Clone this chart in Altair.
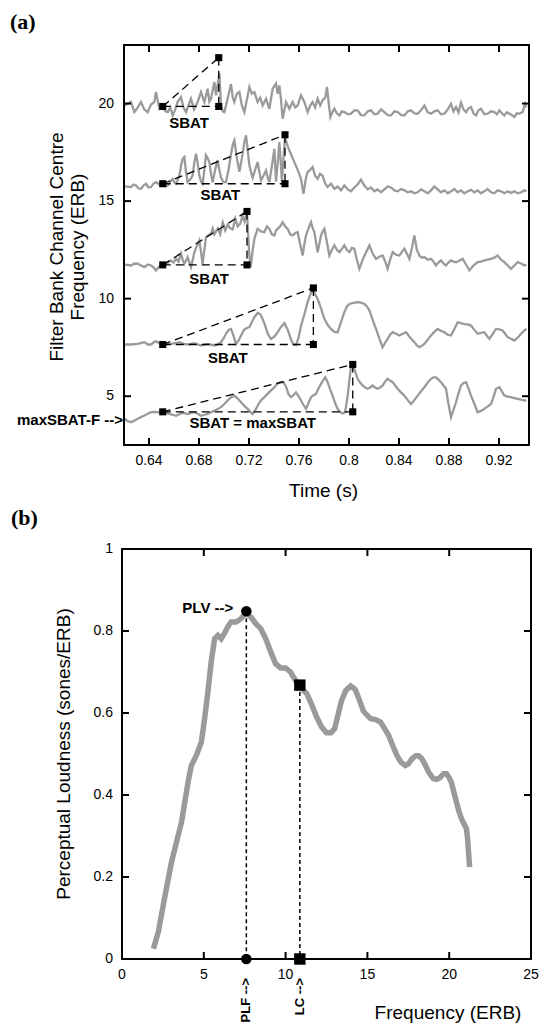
import altair as alt
import pandas as pd

# ---------------- panel (a): filter-bank channel traces ----------------
TIME_DOMAIN = [0.62, 0.944]
CH_DOMAIN = [2.5, 23]
TIME_TICKS = [0.64, 0.68, 0.72, 0.76, 0.80, 0.84, 0.88, 0.92]
TIME_LABELS = ["0.64", "0.68", "0.72", "0.76", "0.8", "0.84", "0.88", "0.92"]
CH_TICKS = [5, 10, 15, 20]
CH_LABELS = ["5", "10", "15", "20"]
A_TITLES = ["Time (s)", "Filter Bank Channel Centre", "Frequency (ERB)"]

T1_T = [0.6205, 0.6256, 0.6283, 0.6310, 0.6336, 0.6362, 0.6389, 0.6416, 0.6443, 0.6456, 0.6483, 0.6510, 0.6530, 0.6550, 0.6570, 0.6590, 0.6610, 0.6629, 0.6656, 0.6676, 0.6696, 0.6716, 0.6736, 0.6760, 0.6789, 0.6816, 0.6843, 0.6869, 0.6883, 0.6896, 0.6923, 0.6936, 0.6950, 0.6963, 0.6976, 0.6990, 0.7003, 0.7029, 0.7056, 0.7070, 0.7083, 0.7103, 0.7123, 0.7143, 0.7163, 0.7183, 0.7203, 0.7223, 0.7243, 0.7269, 0.7290, 0.7309, 0.7336, 0.7363, 0.7389, 0.7416, 0.7430, 0.7443, 0.7456, 0.7469, 0.7496, 0.7523, 0.7549, 0.7570, 0.7589, 0.7616, 0.7643, 0.7669, 0.7690, 0.7709, 0.7729, 0.7749, 0.7769, 0.7789, 0.7810, 0.7824, 0.7838, 0.7851, 0.7870, 0.7883, 0.7903, 0.7923, 0.7943, 0.7963, 0.7990, 0.8016, 0.8043, 0.8069, 0.8096, 0.8123, 0.8150, 0.8176, 0.8203, 0.8229, 0.8256, 0.8283, 0.8310, 0.8336, 0.8363, 0.8389, 0.8416, 0.8443, 0.8470, 0.8496, 0.8523, 0.8549, 0.8576, 0.8603, 0.8630, 0.8656, 0.8683, 0.8709, 0.8736, 0.8763, 0.8790, 0.8816, 0.8836, 0.8856, 0.8876, 0.8896, 0.8916, 0.8936, 0.8956, 0.8976, 0.8996, 0.9016, 0.9036, 0.9056, 0.9083, 0.9109, 0.9136, 0.9163, 0.9183, 0.9203, 0.9223, 0.9243, 0.9263, 0.9283, 0.9303, 0.9323, 0.9343, 0.9363, 0.9389, 0.9408, 0.9420]
T1_V = [19.9, 20.08, 19.56, 19.8, 20.08, 19.7, 19.56, 19.95, 20.08, 20.59, 19.73, 19.9, 19.6, 19.56, 19.8, 19.39, 19.7, 20.08, 20.33, 19.8, 19.56, 19.9, 20.25, 19.7, 20.08, 20.59, 20.08, 20.76, 20.1, 20.25, 21.1, 20.42, 21.0, 21.55, 19.9, 19.6, 19.56, 20.25, 21.0, 20.3, 20.08, 20.5, 20.59, 19.9, 19.56, 20.2, 20.85, 20.5, 20.59, 20.08, 20.3, 19.9, 20.25, 19.73, 20.76, 21.02, 20.5, 20.93, 20.2, 19.22, 20.08, 19.73, 20.08, 19.8, 19.9, 20.42, 20.08, 19.56, 19.9, 20.08, 19.8, 20.25, 19.9, 20.17, 20.3, 20.85, 20.0, 19.31, 19.6, 19.73, 19.5, 19.39, 19.6, 19.56, 19.45, 19.48, 19.65, 19.65, 19.4, 19.39, 19.6, 19.65, 19.45, 19.48, 19.7, 19.56, 19.4, 19.39, 19.6, 19.56, 19.42, 19.39, 19.6, 19.65, 19.5, 19.48, 19.65, 19.9, 19.55, 19.48, 19.6, 19.65, 19.45, 19.48, 19.7, 19.99, 19.6, 19.82, 19.55, 20.05, 19.7, 19.56, 19.75, 19.82, 19.5, 19.39, 19.65, 19.73, 19.45, 19.48, 19.6, 19.56, 19.45, 19.65, 19.5, 19.39, 19.55, 19.48, 19.4, 19.31, 19.5, 19.48, 19.56, 19.99, 19.8]

T2_T = [0.6205, 0.6256, 0.6276, 0.6296, 0.6316, 0.6336, 0.6356, 0.6376, 0.6396, 0.6416, 0.6436, 0.6456, 0.6483, 0.6510, 0.6530, 0.6550, 0.6570, 0.6590, 0.6603, 0.6616, 0.6630, 0.6643, 0.6656, 0.6669, 0.6683, 0.6696, 0.6709, 0.6729, 0.6749, 0.6763, 0.6776, 0.6790, 0.6803, 0.6816, 0.6829, 0.6843, 0.6856, 0.6870, 0.6883, 0.6896, 0.6909, 0.6929, 0.6949, 0.6963, 0.6976, 0.6996, 0.7016, 0.7036, 0.7056, 0.7070, 0.7083, 0.7103, 0.7123, 0.7143, 0.7163, 0.7176, 0.7190, 0.7203, 0.7216, 0.7229, 0.7249, 0.7269, 0.7283, 0.7296, 0.7316, 0.7336, 0.7350, 0.7363, 0.7383, 0.7403, 0.7416, 0.7430, 0.7443, 0.7456, 0.7463, 0.7476, 0.7488, 0.7510, 0.7536, 0.7556, 0.7576, 0.7596, 0.7616, 0.7636, 0.7656, 0.7669, 0.7690, 0.7709, 0.7729, 0.7749, 0.7769, 0.7789, 0.7809, 0.7829, 0.7856, 0.7883, 0.7910, 0.7936, 0.7963, 0.7990, 0.8016, 0.8043, 0.8069, 0.8096, 0.8123, 0.8150, 0.8176, 0.8203, 0.8229, 0.8256, 0.8283, 0.8310, 0.8336, 0.8363, 0.8389, 0.8416, 0.8443, 0.8470, 0.8496, 0.8523, 0.8549, 0.8576, 0.8603, 0.8630, 0.8656, 0.8683, 0.8709, 0.8736, 0.8763, 0.8790, 0.8816, 0.8843, 0.8870, 0.8896, 0.8923, 0.8950, 0.8976, 0.9003, 0.9029, 0.9056, 0.9083, 0.9109, 0.9136, 0.9163, 0.9189, 0.9216, 0.9243, 0.9270, 0.9296, 0.9323, 0.9349, 0.9376, 0.9403, 0.9420]
T2_V = [15.75, 15.72, 15.85, 15.8, 15.65, 15.63, 15.8, 15.89, 15.7, 15.72, 15.9, 15.97, 15.85, 15.89, 15.75, 15.8, 16.0, 16.14, 15.95, 15.89, 16.1, 16.31, 16.8, 17.17, 17.26, 16.5, 15.97, 16.1, 16.31, 17.0, 17.43, 16.9, 16.31, 16.0, 15.89, 16.6, 17.35, 17.2, 17.0, 16.4, 15.97, 16.6, 17.1, 16.6, 16.2, 15.97, 15.97, 16.6, 17.4, 17.9, 18.11, 17.2, 16.5, 17.2, 18.0, 18.37, 17.6, 16.83, 16.5, 16.2, 16.6, 17.0, 16.5, 16.06, 16.3, 16.57, 16.2, 15.97, 16.8, 17.68, 16.0, 17.0, 18.03, 16.8, 16.0, 17.2, 18.25, 17.8, 17.4, 17.1, 16.8, 16.5, 16.14, 15.37, 16.2, 16.49, 16.6, 16.74, 16.3, 16.14, 16.4, 16.3, 15.9, 15.72, 15.9, 15.63, 15.75, 15.55, 15.8, 15.6, 15.5, 15.7, 15.85, 16.1, 15.8, 15.6, 15.7, 15.5, 15.6, 15.45, 15.6, 15.75, 15.7, 15.55, 15.5, 15.62, 15.55, 15.45, 15.5, 15.4, 15.45, 15.6, 15.5, 15.4, 15.55, 15.75, 15.6, 15.45, 15.55, 15.4, 15.5, 15.62, 15.45, 15.55, 15.4, 15.5, 15.58, 15.45, 15.55, 15.4, 15.5, 15.62, 15.45, 15.4, 15.55, 15.5, 15.4, 15.5, 15.42, 15.5, 15.4, 15.45, 15.55, 15.5]

T3_T = [0.6205, 0.6256, 0.6283, 0.6310, 0.6336, 0.6363, 0.6390, 0.6416, 0.6436, 0.6456, 0.6483, 0.6510, 0.6543, 0.6576, 0.6596, 0.6616, 0.6636, 0.6656, 0.6669, 0.6683, 0.6696, 0.6709, 0.6723, 0.6736, 0.6750, 0.6763, 0.6783, 0.6803, 0.6816, 0.6829, 0.6843, 0.6856, 0.6876, 0.6896, 0.6910, 0.6923, 0.6950, 0.6970, 0.6990, 0.7010, 0.7030, 0.7050, 0.7070, 0.7090, 0.7110, 0.7130, 0.7150, 0.7165, 0.7184, 0.7194, 0.7203, 0.7213, 0.7230, 0.7243, 0.7269, 0.7296, 0.7323, 0.7343, 0.7363, 0.7383, 0.7403, 0.7416, 0.7429, 0.7449, 0.7469, 0.7489, 0.7509, 0.7529, 0.7549, 0.7569, 0.7589, 0.7609, 0.7629, 0.7643, 0.7656, 0.7676, 0.7696, 0.7710, 0.7723, 0.7736, 0.7749, 0.7763, 0.7776, 0.7790, 0.7803, 0.7823, 0.7843, 0.7863, 0.7883, 0.7903, 0.7923, 0.7943, 0.7963, 0.7983, 0.8003, 0.8023, 0.8043, 0.8063, 0.8083, 0.8110, 0.8136, 0.8150, 0.8163, 0.8190, 0.8216, 0.8243, 0.8269, 0.8290, 0.8309, 0.8329, 0.8349, 0.8376, 0.8403, 0.8423, 0.8443, 0.8463, 0.8483, 0.8503, 0.8523, 0.8543, 0.8563, 0.8583, 0.8603, 0.8630, 0.8656, 0.8676, 0.8696, 0.8716, 0.8736, 0.8756, 0.8776, 0.8796, 0.8816, 0.8836, 0.8856, 0.8883, 0.8909, 0.8936, 0.8963, 0.8996, 0.9029, 0.9056, 0.9083, 0.9110, 0.9136, 0.9163, 0.9189, 0.9216, 0.9243, 0.9270, 0.9296, 0.9323, 0.9349, 0.9376, 0.9403, 0.9420]
T3_V = [11.75, 11.7, 11.8, 11.79, 11.7, 11.62, 11.75, 11.7, 11.6, 11.45, 11.65, 11.74, 11.8, 11.96, 11.85, 12.05, 11.9, 12.31, 12.0, 11.79, 11.95, 12.13, 11.85, 11.62, 12.0, 12.38, 12.7, 12.98, 12.4, 11.79, 12.5, 13.15, 13.25, 13.32, 13.6, 13.3, 13.6, 13.3, 13.9, 13.5, 13.8, 13.6, 13.55, 14.1, 13.7, 13.85, 14.27, 13.95, 14.4, 13.2, 12.2, 11.62, 12.5, 13.07, 13.58, 13.45, 13.41, 13.7, 13.58, 13.3, 13.24, 13.5, 13.58, 13.7, 13.92, 13.7, 13.58, 13.3, 13.24, 13.35, 13.41, 12.8, 12.21, 12.8, 13.24, 13.6, 13.92, 13.6, 13.41, 12.9, 12.38, 12.8, 13.24, 13.45, 13.58, 12.9, 12.21, 12.5, 12.73, 12.5, 12.38, 12.55, 12.73, 12.5, 12.38, 12.6, 12.56, 12.0, 11.53, 12.0, 12.38, 12.55, 12.73, 12.3, 12.04, 12.15, 12.21, 11.9, 11.53, 12.0, 12.38, 12.25, 12.21, 12.4, 12.56, 12.3, 12.04, 12.6, 13.24, 12.5, 12.21, 12.1, 12.13, 12.0, 12.04, 11.9, 11.7, 11.85, 11.96, 11.8, 11.7, 11.85, 11.96, 11.9, 11.87, 11.95, 12.04, 11.75, 11.45, 11.7, 11.87, 11.9, 11.96, 12.0, 12.04, 12.1, 12.21, 12.0, 11.87, 11.7, 11.53, 11.7, 11.87, 11.8, 11.7, 11.75]

T4_T = [0.6205, 0.6256, 0.6310, 0.6363, 0.6390, 0.6416, 0.6436, 0.6456, 0.6483, 0.6510, 0.6576, 0.6610, 0.6643, 0.6676, 0.6709, 0.6763, 0.6816, 0.6869, 0.6923, 0.6950, 0.6976, 0.7000, 0.7016, 0.7036, 0.7056, 0.7076, 0.7096, 0.7116, 0.7136, 0.7160, 0.7183, 0.7203, 0.7223, 0.7243, 0.7270, 0.7290, 0.7310, 0.7330, 0.7350, 0.7376, 0.7403, 0.7429, 0.7456, 0.7483, 0.7510, 0.7536, 0.7556, 0.7576, 0.7596, 0.7616, 0.7643, 0.7669, 0.7690, 0.7712, 0.7730, 0.7749, 0.7776, 0.7803, 0.7830, 0.7856, 0.7883, 0.7909, 0.7936, 0.7963, 0.7983, 0.8003, 0.8036, 0.8069, 0.8096, 0.8123, 0.8143, 0.8163, 0.8190, 0.8216, 0.8243, 0.8269, 0.8290, 0.8309, 0.8329, 0.8349, 0.8376, 0.8403, 0.8430, 0.8456, 0.8490, 0.8523, 0.8543, 0.8563, 0.8583, 0.8603, 0.8630, 0.8656, 0.8683, 0.8709, 0.8736, 0.8763, 0.8790, 0.8816, 0.8843, 0.8869, 0.8896, 0.8923, 0.8950, 0.8976, 0.9003, 0.9029, 0.9056, 0.9083, 0.9103, 0.9123, 0.9150, 0.9176, 0.9203, 0.9229, 0.9249, 0.9269, 0.9296, 0.9323, 0.9350, 0.9376, 0.9400, 0.9420]
T4_V = [7.65, 7.65, 7.68, 7.77, 7.65, 7.65, 7.75, 7.82, 7.7, 7.65, 7.68, 7.72, 7.77, 7.68, 7.65, 7.72, 7.6, 7.68, 7.6, 7.65, 7.77, 8.0, 8.2, 8.4, 8.45, 8.1, 7.68, 7.85, 8.1, 8.4, 8.5, 8.54, 8.8, 9.05, 9.28, 9.2, 8.95, 8.6, 8.2, 7.94, 8.05, 8.28, 8.55, 8.75, 8.4, 7.9, 7.65, 7.62, 8.0, 8.6, 9.2, 9.82, 10.2, 10.5, 10.2, 9.99, 9.5, 8.97, 8.65, 8.45, 8.3, 8.28, 8.8, 9.31, 9.6, 9.73, 9.78, 9.82, 9.8, 9.73, 9.6, 9.4, 8.9, 8.45, 7.95, 7.51, 7.75, 7.94, 8.15, 8.28, 8.2, 8.11, 8.2, 8.28, 8.0, 7.77, 7.6, 7.51, 7.58, 7.68, 7.9, 8.11, 8.3, 8.45, 8.35, 8.28, 8.15, 8.11, 8.45, 8.79, 8.75, 8.7, 8.68, 8.62, 8.4, 8.2, 8.25, 8.28, 8.1, 7.94, 8.2, 8.45, 8.42, 8.37, 8.2, 8.03, 7.95, 7.85, 8.0, 8.2, 8.35, 8.45]

T5_T = [0.6205, 0.6230, 0.6256, 0.6283, 0.6310, 0.6336, 0.6363, 0.6390, 0.6416, 0.6443, 0.6470, 0.6490, 0.6510, 0.6536, 0.6563, 0.6590, 0.6616, 0.6643, 0.6669, 0.6690, 0.6709, 0.6736, 0.6763, 0.6790, 0.6816, 0.6843, 0.6869, 0.6896, 0.6923, 0.6950, 0.6976, 0.7003, 0.7029, 0.7056, 0.7083, 0.7110, 0.7136, 0.7163, 0.7189, 0.7209, 0.7229, 0.7256, 0.7276, 0.7296, 0.7323, 0.7349, 0.7376, 0.7403, 0.7429, 0.7456, 0.7476, 0.7496, 0.7516, 0.7536, 0.7556, 0.7576, 0.7596, 0.7616, 0.7636, 0.7656, 0.7676, 0.7696, 0.7716, 0.7736, 0.7756, 0.7776, 0.7796, 0.7810, 0.7829, 0.7849, 0.7869, 0.7889, 0.7909, 0.7929, 0.7949, 0.7969, 0.7989, 0.8003, 0.8016, 0.8030, 0.8043, 0.8069, 0.8089, 0.8109, 0.8129, 0.8149, 0.8169, 0.8189, 0.8209, 0.8229, 0.8249, 0.8269, 0.8289, 0.8309, 0.8329, 0.8349, 0.8369, 0.8389, 0.8416, 0.8443, 0.8470, 0.8496, 0.8523, 0.8549, 0.8576, 0.8603, 0.8630, 0.8656, 0.8676, 0.8696, 0.8716, 0.8736, 0.8756, 0.8776, 0.8796, 0.8816, 0.8836, 0.8856, 0.8876, 0.8896, 0.8916, 0.8936, 0.8956, 0.8976, 0.9003, 0.9029, 0.9056, 0.9083, 0.9110, 0.9136, 0.9156, 0.9176, 0.9203, 0.9223, 0.9243, 0.9270, 0.9296, 0.9323, 0.9349, 0.9376, 0.9403, 0.9420]
T5_V = [3.85, 3.72, 3.67, 3.75, 3.84, 3.93, 4.01, 4.1, 4.18, 4.2, 4.18, 4.2, 4.21, 4.15, 4.09, 4.05, 4.0, 4.08, 4.15, 4.12, 4.09, 4.14, 4.18, 4.1, 4.0, 4.05, 4.09, 4.18, 4.26, 4.35, 4.44, 4.6, 4.78, 4.95, 5.03, 4.88, 4.69, 4.5, 4.35, 4.2, 4.09, 4.35, 4.6, 4.78, 4.95, 5.12, 5.3, 5.46, 5.65, 5.72, 5.7, 5.5, 5.1, 4.95, 5.05, 5.2, 5.0, 4.78, 4.55, 4.35, 4.65, 4.95, 5.05, 5.12, 5.4, 5.63, 5.85, 5.97, 5.72, 5.35, 5.03, 4.65, 4.35, 4.2, 4.12, 4.18, 5.0, 5.8, 6.55, 6.5, 6.4, 5.89, 5.7, 5.55, 5.45, 5.38, 5.45, 5.55, 5.45, 5.38, 5.45, 5.55, 5.75, 5.89, 5.8, 5.72, 5.55, 5.38, 5.2, 5.03, 4.8, 4.6, 4.8, 5.03, 5.25, 5.46, 5.7, 5.89, 5.97, 5.97, 5.85, 5.72, 5.55, 5.38, 4.6, 3.92, 4.3, 4.69, 5.15, 5.55, 5.68, 5.72, 5.4, 5.03, 4.6, 4.18, 4.25, 4.35, 4.48, 4.6, 4.95, 5.38, 5.46, 5.25, 5.03, 4.98, 4.95, 4.9, 4.86, 4.82, 4.78, 4.8]

# SBAT construction points (one per channel, top to bottom)
SBAT_START_T = [0.651, 0.651, 0.651, 0.651, 0.651]
SBAT_PEAK_T = [0.6958, 0.7488, 0.7184, 0.7715, 0.8030]
SBAT_BASE_V = [19.85, 15.89, 11.73, 7.65, 4.20]
SBAT_PEAK_V = [22.35, 18.40, 14.47, 10.55, 6.63]
SBAT_LABEL_T = [0.672, 0.697, 0.688, 0.703, 0.723]
SBAT_LABEL_V = [19.0, 15.3, 11.0, 6.97, 3.62]
SBAT_LABELS = ["SBAT", "SBAT", "SBAT", "SBAT", "SBAT = maxSBAT"]
MAXF_T = [0.62]
MAXF_V = [3.79]
MAXF_LABEL = ["maxSBAT-F -->"]

# ---------------- panel (b): loudness pattern ----------------
FREQ_DOMAIN = [0, 25]
LOUD_DOMAIN = [0, 1]
FREQ_TICKS = [0, 5, 10, 15, 20, 25]
FREQ_LABELS = ["0", "5", "10", "15", "20", "25"]
LOUD_TICKS = [0, 0.2, 0.4, 0.6, 0.8, 1]
LOUD_LABELS = ["0", "0.2", "0.4", "0.6", "0.8", "1"]
B_TITLES = ["Frequency (ERB)", "Perceptual Loudness (sones/ERB)"]
CURVE_F = [1.92, 2.22, 2.63, 3.03, 3.33, 3.64, 3.84, 4.04, 4.24, 4.55, 4.85, 5.05, 5.25, 5.45, 5.66, 5.86, 6.06, 6.26, 6.46, 6.67, 6.97, 7.27, 7.58, 7.88, 8.18, 8.48, 8.79, 9.09, 9.39, 9.70, 10.0, 10.3, 10.6, 10.9, 11.3, 11.6, 11.9, 12.2, 12.5, 12.77, 13.0, 13.2, 13.4, 13.68, 13.98, 14.25, 14.48, 14.75, 14.99, 15.2, 15.5, 15.8, 16.05, 16.3, 16.55, 16.81, 17.05, 17.31, 17.5, 17.72, 17.95, 18.12, 18.3, 18.52, 18.75, 19.03, 19.23, 19.43, 19.65, 19.84, 20.0, 20.14, 20.3, 20.44, 20.6, 20.75, 20.9, 21.05, 21.12, 21.15, 21.2, 21.25]
CURVE_V = [0.025, 0.066, 0.155, 0.237, 0.285, 0.334, 0.383, 0.432, 0.472, 0.497, 0.529, 0.586, 0.651, 0.724, 0.781, 0.789, 0.781, 0.794, 0.810, 0.822, 0.822, 0.830, 0.845, 0.834, 0.818, 0.806, 0.781, 0.749, 0.720, 0.710, 0.710, 0.700, 0.680, 0.663, 0.647, 0.620, 0.590, 0.566, 0.552, 0.552, 0.562, 0.595, 0.628, 0.655, 0.666, 0.658, 0.635, 0.605, 0.594, 0.586, 0.584, 0.578, 0.562, 0.545, 0.520, 0.496, 0.480, 0.472, 0.476, 0.488, 0.496, 0.496, 0.490, 0.475, 0.455, 0.440, 0.438, 0.442, 0.452, 0.452, 0.442, 0.430, 0.405, 0.383, 0.360, 0.342, 0.330, 0.318, 0.295, 0.277, 0.250, 0.224]
PLV_F, PLV_V = 7.6, 0.848
LC_F, LC_V = 10.87, 0.668

SANS = "Liberation Sans"
SERIF = "Liberation Serif"
GRAY = "#9a9a9a"
TICK = 7
LABEL_SIZE = 14
TITLE_SIZE = 19
WA, HA = 405, 400
WB, HB = 409, 410

# ---------------- tables ----------------
trace_rows = []
for i, (ts, vs) in enumerate([(T1_T, T1_V), (T2_T, T2_V), (T3_T, T3_V), (T4_T, T4_V), (T5_T, T5_V)]):
    for k, (t, v) in enumerate(zip(ts, vs)):
        trace_rows.append({"t": t, "v": v, "ch": i, "k": k})
traces = pd.DataFrame(trace_rows)

seg_rows, sq_rows = [], []
for s, p, b, pv in zip(SBAT_START_T, SBAT_PEAK_T, SBAT_BASE_V, SBAT_PEAK_V):
    seg_rows += [
        {"t": s, "v": b, "t1": p, "v1": pv},
        {"t": s, "v": b, "t1": p, "v1": b},
        {"t": p, "v": pv, "t1": p, "v1": b},
    ]
    sq_rows += [{"t": s, "v": b}, {"t": p, "v": pv}, {"t": p, "v": b}]
segs = pd.DataFrame(seg_rows)
squares = pd.DataFrame(sq_rows)
sbat_lab = pd.DataFrame({"t": SBAT_LABEL_T, "v": SBAT_LABEL_V, "txt": SBAT_LABELS})
maxf = pd.DataFrame({"t": MAXF_T, "v": MAXF_V, "txt": MAXF_LABEL})
xt_a = pd.DataFrame({"t": TIME_TICKS, "lab": TIME_LABELS})
yt_a = pd.DataFrame({"v": CH_TICKS, "lab": CH_LABELS})
ttl_a = pd.DataFrame({"txt": A_TITLES})

curve = pd.DataFrame({"f": CURVE_F, "v": CURVE_V})
marks_b = pd.DataFrame({"f": [PLV_F, LC_F], "v": [PLV_V, LC_V], "z": [0, 0]})
circ_b = pd.DataFrame({"f": [PLV_F, PLV_F], "v": [PLV_V, 0]})
sq_b = pd.DataFrame({"f": [LC_F, LC_F], "v": [LC_V, 0]})
plv_lab = pd.DataFrame({"f": [PLV_F], "v": [PLV_V], "txt": ["PLV -->"]})
axis_lab = pd.DataFrame({"f": [PLV_F, LC_F], "v": [0, 0], "txt": ["PLF -->", "LC -->"]})
xt_b = pd.DataFrame({"f": FREQ_TICKS, "lab": FREQ_LABELS})
yt_b = pd.DataFrame({"v": LOUD_TICKS, "lab": LOUD_LABELS})
ttl_b = pd.DataFrame({"txt": B_TITLES})


def frame_segments(xdom, ydom, xticks, yticks, w, h, xf, yf):
    """Frame edges plus inward tick segments (7 px long), in data units."""
    x0, x1 = xdom
    y0, y1 = ydom
    dx = TICK * (x1 - x0) / w
    dy = TICK * (y1 - y0) / h
    rows = [
        (x0, y0, x1, y0), (x0, y1, x1, y1), (x0, y0, x0, y1), (x1, y0, x1, y1),
    ]
    for t in xticks:
        if x0 < t < x1:
            rows += [(t, y0, t, y0 + dy), (t, y1, t, y1 - dy)]
    for v in yticks:
        if y0 < v < y1:
            rows += [(x0, v, x0 + dx, v), (x1, v, x1 - dx, v)]
    return pd.DataFrame(rows, columns=[xf, yf, xf + "1", yf + "1"])


lab_style = dict(font=SANS, fontSize=LABEL_SIZE, color="black")
ttl_style = dict(font=SANS, fontSize=TITLE_SIZE, color="black")


def guide_layers(xdf, ydf, fdf, X, Y, xf, yf, h, xpad, ypad):
    return [
        alt.Chart(fdf).mark_rule(color="black", strokeWidth=2).encode(
            x=X, y=Y, x2=f"{xf}1:Q", y2=f"{yf}1:Q"),
        alt.Chart(xdf).mark_text(baseline="top", align="center", **lab_style).encode(
            x=X, y=alt.value(h + xpad), text="lab:N"),
        alt.Chart(ydf).mark_text(baseline="middle", align="right", **lab_style).encode(
            y=Y, x=alt.value(-ypad), text="lab:N"),
    ]


# ---------------- panel (a) ----------------
xs_a = alt.Scale(domain=TIME_DOMAIN, nice=False, zero=False)
ys_a = alt.Scale(domain=CH_DOMAIN, nice=False, zero=False)
XA = alt.X("t:Q", scale=xs_a, axis=None)
YA = alt.Y("v:Q", scale=ys_a, axis=None)
frame_a = frame_segments(TIME_DOMAIN, CH_DOMAIN, TIME_TICKS, CH_TICKS, WA, HA, "t", "v")

lines_a = alt.Chart(traces).mark_line(color=GRAY, strokeWidth=2.3).encode(
    x=XA, y=YA, detail="ch:N", order="k:Q")
dash_a = alt.Chart(segs).mark_rule(color="black", strokeWidth=1.3, strokeDash=[8, 5]).encode(
    x=XA, y=YA, x2="t1:Q", y2="v1:Q")
sq_a = alt.Chart(squares).mark_square(color="black", size=50, opacity=1).encode(x=XA, y=YA)
lab_a = alt.Chart(sbat_lab).mark_text(font=SANS, fontSize=15, fontWeight="bold", color="black").encode(
    x=XA, y=YA, text="txt:N")
maxf_a = alt.Chart(maxf).mark_text(font=SANS, fontSize=15, fontWeight="bold", color="black",
                                   align="right", baseline="middle", dx=-1).encode(
    x=XA, y=YA, text="txt:N")
xtitle_a = alt.Chart(ttl_a).transform_filter(alt.datum.txt == A_TITLES[0]).mark_text(
    baseline="top", align="center", **ttl_style).encode(
    x=alt.value(WA / 2 - 3), y=alt.value(HA + 37), text="txt:N")
ytitle1_a = alt.Chart(ttl_a).transform_filter(alt.datum.txt == A_TITLES[1]).mark_text(
    baseline="middle", align="center", angle=270, **ttl_style).encode(
    x=alt.value(-67), y=alt.value(HA / 2 + 2), text="txt:N")
ytitle2_a = alt.Chart(ttl_a).transform_filter(alt.datum.txt == A_TITLES[2]).mark_text(
    baseline="middle", align="center", angle=270, **ttl_style).encode(
    x=alt.value(-46), y=alt.value(HA / 2 + 2), text="txt:N")

panel_a = alt.layer(
    lines_a, dash_a, sq_a, lab_a, maxf_a,
    *guide_layers(xt_a, yt_a, frame_a, XA, YA, "t", "v", HA, 9, 10),
    xtitle_a, ytitle1_a, ytitle2_a,
).properties(
    width=WA, height=HA,
    title=alt.TitleParams("(a)", anchor="start", frame="group", dx=-114, offset=10,
                          font=SERIF, fontSize=22, fontWeight="bold", color="black"),
)

# ---------------- panel (b) ----------------
xs_b = alt.Scale(domain=FREQ_DOMAIN, nice=False, zero=False)
ys_b = alt.Scale(domain=LOUD_DOMAIN, nice=False, zero=False)
XB = alt.X("f:Q", scale=xs_b, axis=None)
YB = alt.Y("v:Q", scale=ys_b, axis=None)
frame_b = frame_segments(FREQ_DOMAIN, LOUD_DOMAIN, FREQ_TICKS, LOUD_TICKS, WB, HB, "f", "v")

curve_b = alt.Chart(curve).mark_line(color=GRAY, strokeWidth=5.5).encode(x=XB, y=YB)
vl_b = alt.Chart(marks_b).mark_rule(color="black", strokeWidth=1.5, strokeDash=[4, 3]).encode(
    x=XB, y=YB, y2="z:Q")
circ = alt.Chart(circ_b).mark_circle(color="black", size=110, opacity=1).encode(x=XB, y=YB)
sqb = alt.Chart(sq_b).mark_square(color="black", size=130, opacity=1).encode(x=XB, y=YB)
plv = alt.Chart(plv_lab).mark_text(font=SANS, fontSize=15, fontWeight="bold", color="black",
                                   align="right", baseline="middle", dx=-13, dy=-3).encode(
    x=XB, y=YB, text="txt:N")
axl = alt.Chart(axis_lab).mark_text(font=SANS, fontSize=13, fontWeight="bold", color="black",
                                    align="right", baseline="middle", angle=270, dx=-19).encode(
    x=XB, y=YB, text="txt:N")
xtitle_b = alt.Chart(ttl_b).transform_filter(alt.datum.txt == B_TITLES[0]).mark_text(
    baseline="top", align="center", **ttl_style).encode(
    x=alt.value(326), y=alt.value(HB + 45), text="txt:N")
ytitle_b = alt.Chart(ttl_b).transform_filter(alt.datum.txt == B_TITLES[1]).mark_text(
    baseline="middle", align="center", angle=270, **ttl_style).encode(
    x=alt.value(-58), y=alt.value(HB / 2), text="txt:N")

panel_b = alt.layer(
    curve_b, vl_b, circ, sqb, plv, axl,
    *guide_layers(xt_b, yt_b, frame_b, XB, YB, "f", "v", HB, 9, 9),
    xtitle_b, ytitle_b,
).properties(
    width=WB, height=HB,
    title=alt.TitleParams("(b)", anchor="start", frame="group", dx=-111, offset=12,
                          font=SERIF, fontSize=22, fontWeight="bold", color="black"),
)

chart = alt.vconcat(panel_a, panel_b, spacing=104, center=True, bounds="flush").properties(
    padding={"left": 1, "top": 2, "right": 0, "bottom": 0}
).configure_view(
    stroke="black", strokeWidth=1.8
)

chart.save("out.html", embed_options={"renderer": "svg", "actions": False})
